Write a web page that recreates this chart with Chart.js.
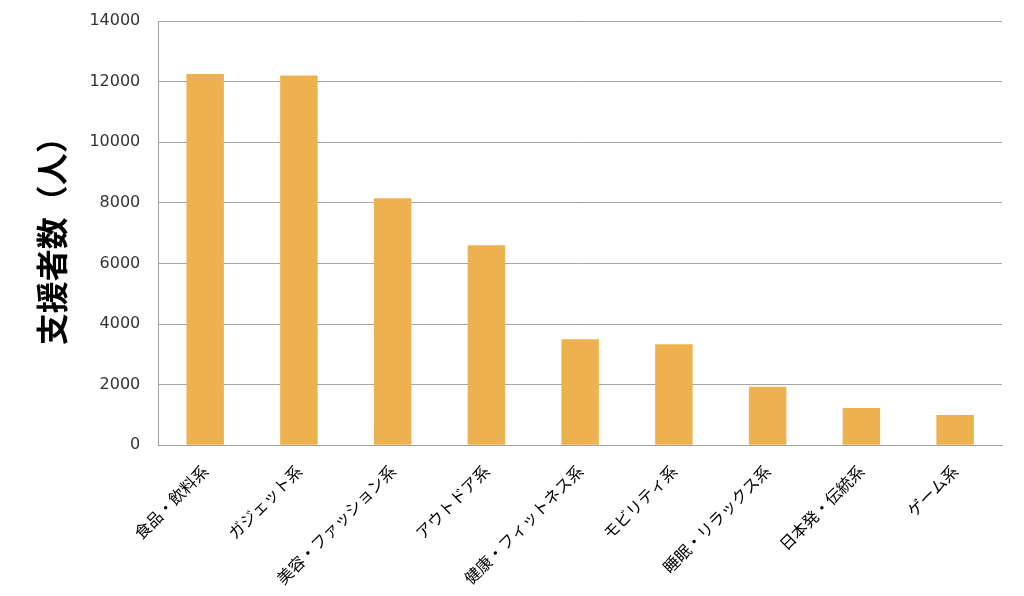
<!DOCTYPE html>
<html>
<head>
<meta charset="utf-8">
<script src="https://cdn.jsdelivr.net/npm/chart.js@4"></script>
<style>
html,body{margin:0;padding:0;background:#fff;}
#wrap{width:1024px;height:596px;}
</style>
</head>
<body>
<div id="wrap"><canvas id="c" width="1024" height="596"></canvas></div>
<script>
const categories = ["食品・飲料系","ガジェット系","美容・ファッション系","アウトドア系","健康・フィットネス系","モビリティ系","睡眠・リラックス系","日本発・伝統系","ゲーム系"];
const supporters = [12250, 12200, 8150, 6600, 3500, 3330, 1930, 1230, 1000];
const yTitle = "支援者数（人）";
const yMax = 14000;
const yStep = 2000;

new Chart(document.getElementById('c'), {
  type: 'bar',
  data: {
    labels: categories,
    datasets: [{
      data: supporters,
      backgroundColor: '#EDB24F',
      borderWidth: 0,
      barPercentage: 0.8,
      categoryPercentage: 0.5
    }]
  },
  options: {
    responsive: false,
    animation: false,
    layout: { padding: { left: 29, right: 22, top: 21, bottom: 0 } },
    plugins: { legend: { display: false }, tooltip: { enabled: false } },
    scales: {
      x: {
        grid: { display: false },
        border: { display: true, color: '#a0a0a0', width: 1 },
        ticks: {
          minRotation: 45, maxRotation: 45,
          color: '#000',
          padding: 8,
          font: { family: '"Noto Sans CJK JP"', size: 16 }
        }
      },
      y: {
        min: 0, max: yMax,
        ticks: {
          stepSize: yStep,
          color: '#333',
          padding: 3,
          font: { family: '"DejaVu Sans"', size: 16 },
          callback: (v) => String(v)
        },
        grid: { color: '#a6a6a6', lineWidth: 1, drawTicks: true, tickLength: 15, tickColor: 'rgba(0,0,0,0)' },
        border: { display: true, color: '#a0a0a0', width: 1 },
        title: {
          display: true,
          text: yTitle,
          color: '#000',
          padding: { top: 4, bottom: 15 },
          font: { family: '"Noto Sans CJK JP"', size: 32, weight: 'bold' }
        }
      }
    }
  }
});
</script>
</body>
</html>
